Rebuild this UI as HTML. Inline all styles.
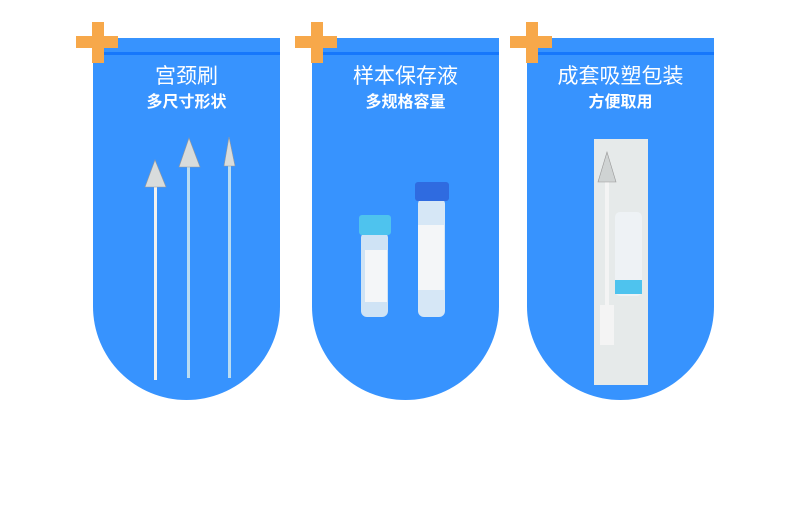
<!DOCTYPE html>
<html><head><meta charset="utf-8"><style>
body{margin:0;width:790px;height:510px;background:#fff;position:relative;overflow:hidden;font-family:"Liberation Sans","Noto Sans CJK SC",sans-serif}
.card{position:absolute;top:38px;width:187px;height:362px;background:#3793fe;border-radius:0 0 93.5px 93.5px/0 0 93.5px 93.5px;overflow:hidden}
.band{position:absolute;left:0;right:0;top:14px;height:3px;background:#1677fb}
.t1{position:absolute;left:0;right:0;top:26px;text-align:center;color:#fff;font-size:21px;line-height:26px}
.t2{position:absolute;left:0;right:0;top:55px;text-align:center;color:#fff;font-size:16px;font-weight:bold;line-height:20px}
.ph{position:absolute;background:#f7a84a}
svg{position:absolute;left:0;top:0}
</style></head><body>
<div class="card" style="left:93px"><div class="band"></div><div class="t1">宫颈刷</div><div class="t2">多尺寸形状</div></div>
<div class="card" style="left:312px"><div class="band"></div><div class="t1">样本保存液</div><div class="t2">多规格容量</div></div>
<div class="card" style="left:527px"><div class="band"></div><div class="t1">成套吸塑包装</div><div class="t2">方便取用</div></div>
<div class="ph" style="left:76px;top:36px;width:42px;height:12px"></div><div class="ph" style="left:92px;top:22px;width:12px;height:41px"></div>
<div class="ph" style="left:295px;top:36px;width:42px;height:12px"></div><div class="ph" style="left:311px;top:22px;width:12px;height:41px"></div>
<div class="ph" style="left:510px;top:36px;width:42px;height:12px"></div><div class="ph" style="left:526px;top:22px;width:12px;height:41px"></div>
<svg width="790" height="510">
<rect x="154" y="180" width="3" height="200" fill="#f2f2f0"/>
<polygon points="155,160 145,187 166,187" fill="#d8dcdc" stroke="#999" stroke-width="0.6"/>
<rect x="187" y="160" width="3" height="218" fill="#b9dcf2"/>
<polygon points="189,138 179,167 200,167" fill="#d8dcdc" stroke="#999" stroke-width="0.6"/>
<rect x="228" y="160" width="3" height="218" fill="#b9dcf2"/>
<polygon points="229,137 224,166 235,166" fill="#d8dcdc" stroke="#999" stroke-width="0.6"/>
<rect x="361" y="232" width="27" height="85" rx="6" fill="#cfe3f5"/>
<rect x="359" y="215" width="32" height="20" rx="3" fill="#4ec3ee"/>
<rect x="365" y="250" width="22" height="52" fill="#f4f6f8"/>
<rect x="418" y="198" width="27" height="119" rx="6" fill="#d6e7f6"/>
<rect x="415" y="182" width="34" height="19" rx="3" fill="#2f6be0"/>
<rect x="418" y="225" width="26" height="65" fill="#f4f6f8"/>
<rect x="594" y="139" width="54" height="246" fill="#e6eaea"/>
<rect x="605" y="180" width="4" height="150" fill="#f4f4f4"/>
<polygon points="607,152 598,182 616,182" fill="#cfd3d3" stroke="#999" stroke-width="0.6"/>
<rect x="600" y="305" width="14" height="40" fill="#f4f4f4"/>
<rect x="615" y="212" width="27" height="84" rx="5" fill="#eef2f5"/>
<rect x="615" y="280" width="27" height="14" fill="#4ec3ee"/>
</svg>
</body></html>
